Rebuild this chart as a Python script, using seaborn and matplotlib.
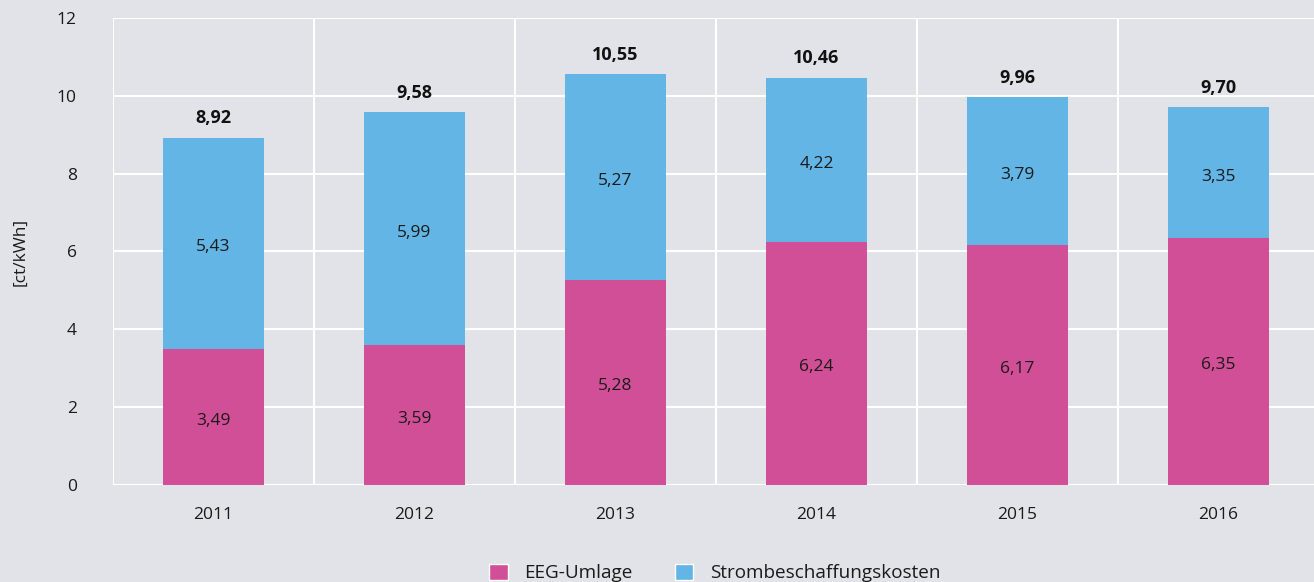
import numpy as np
import pandas as pd
import matplotlib
matplotlib.use("Agg")
import matplotlib.pyplot as plt
from matplotlib.patches import Patch
import seaborn as sns

years = ["2011", "2012", "2013", "2014", "2015", "2016"]
eeg = [3.49, 3.59, 5.28, 6.24, 6.17, 6.35]
strom = [5.43, 5.99, 5.27, 4.22, 3.79, 3.35]

bg = "#e2e3e8"
pink = "#d14f96"
blue = "#62b5e5"

sns.set_style("whitegrid")
plt.rcParams["font.family"] = ["Open Sans", "DejaVu Sans"]

df = pd.DataFrame({"Jahr": years, "EEG": eeg, "Strom": strom})
df["Total"] = df["EEG"] + df["Strom"]

fig = plt.figure(figsize=(13.14, 5.82), dpi=100, facecolor=bg)
# axes runs a bit past the right edge, like the original
ax = fig.add_axes([113 / 1314, 0.1667, 1206 / 1314, 0.8024])
ax.set_facecolor(bg)

# stacked: total in blue, EEG on top of it in pink
sns.barplot(data=df, x="Jahr", y="Total", color=blue, width=0.5, ax=ax,
            saturation=1, linewidth=0, edgecolor="none")
sns.barplot(data=df, x="Jahr", y="EEG", color=pink, width=0.5, ax=ax,
            saturation=1, linewidth=0, edgecolor="none")

for i, row in df.iterrows():
    ax.text(i, row["EEG"] / 2 - 0.1, f"{row['EEG']:.2f}".replace(".", ","),
            ha="center", va="center", fontsize=12.5, color="#1a1a1a")
    ax.text(i, row["EEG"] + row["Strom"] / 2 - 0.1, f"{row['Strom']:.2f}".replace(".", ","),
            ha="center", va="center", fontsize=12.5, color="#1a1a1a")
    ax.text(i, row["Total"] + 0.5, f"{row['Total']:.2f}".replace(".", ","),
            ha="center", va="center", fontsize=13, fontweight="bold", color="#111111")

ax.set_ylim(0, 12)
ax.set_xlim(-0.5, 5.5)
ax.set_yticks(np.arange(0, 13, 2))
ax.set_xticks(np.arange(-0.5, 6, 1), minor=True)
ax.grid(False)
ax.grid(axis="y", which="major", color="white", linewidth=1.5)
ax.grid(axis="x", which="minor", color="white", linewidth=1.5)
ax.set_axisbelow(True)
for s in ax.spines.values():
    s.set_visible(False)
ax.tick_params(axis="both", which="both", length=0, labelsize=12.5, colors="#1a1a1a")
ax.tick_params(axis="y", pad=26)
ax.tick_params(axis="x", pad=16)
ax.set_xlabel("")
ax.set_ylabel("[ct/kWh]", fontsize=12.5, color="#1a1a1a", va="center")
ax.yaxis.set_label_coords(-0.077, 0.5)

handles = [Patch(facecolor=pink, edgecolor="white", linewidth=1, label="EEG-Umlage"),
           Patch(facecolor=blue, edgecolor="white", linewidth=1, label="Strombeschaffungskosten")]
fig.legend(handles=handles, loc="lower center", bbox_to_anchor=(0.544, -0.03), ncol=2,
           frameon=False, fontsize=13.6, handlelength=1.0, handleheight=1.0,
           columnspacing=2.2, handletextpad=0.9, labelcolor="#1a1a1a")

fig.savefig("out.png", dpi=100, facecolor=bg)
